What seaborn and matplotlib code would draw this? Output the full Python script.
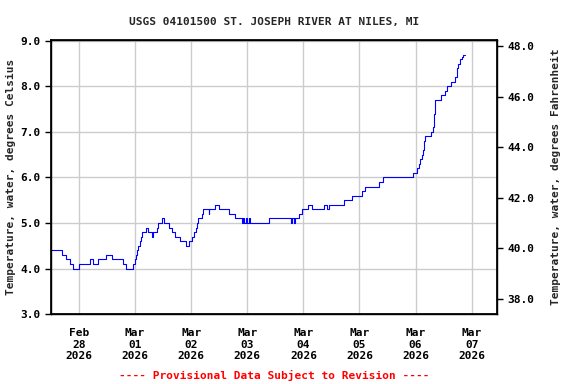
import matplotlib
matplotlib.use("Agg")
import matplotlib.pyplot as plt
import seaborn as sns
import pandas as pd

# step changes: hours after 2026-02-27 12:00, water temperature (deg C)
hours = [0, 4.9, 6.4, 8.1, 9.6, 12, 16.7, 17.9, 20.3, 23.4, 26, 31, 32.1,
         35, 36, 36.4, 36.7, 37.4, 38.1, 38.6, 38.9, 40.7, 41.4, 43.1, 43.8,
         45.3, 46, 47.4, 48.4, 50.7, 51.7, 53.1, 55, 57.7, 58.9, 60.3, 61.3,
         62, 62.4, 63.1, 64.6, 65, 67.4, 67.8, 70.3, 71.7, 76, 78.9, 81.7,
         82.3, 82.8, 83.4, 84, 84.6, 85.2, 86, 93.1, 102.7, 103.2, 103.8,
         104.4, 105.3, 106.3, 107.6, 109.9, 111.7, 116.7, 117.9, 118.9,
         125.3, 129, 133.2, 134.3, 140.3, 142, 154.9, 156.7, 157.4, 158.1,
         158.9, 159.3, 159.6, 159.7, 160, 162.4, 163.3, 163.9, 164.0, 164.1,
         164.4, 166.7, 168.4, 169.6, 171.3, 172.9, 173.6, 173.9, 174.3, 175,
         175.7, 176.4, 177]
temp_c = [4.4, 4.3, 4.2, 4.1, 4.0, 4.1, 4.2, 4.1, 4.2, 4.3, 4.2, 4.1, 4.0,
          4.1, 4.2, 4.3, 4.4, 4.5, 4.6, 4.7, 4.8, 4.9, 4.8, 4.7, 4.8,
          4.9, 5.0, 5.1, 5.0, 4.9, 4.8, 4.7, 4.6, 4.5, 4.6, 4.7, 4.8,
          4.9, 5.0, 5.1, 5.2, 5.3, 5.2, 5.3, 5.4, 5.3, 5.2, 5.1, 5.0,
          5.1, 5.0, 5.1, 5.0, 5.1, 5.0, 5.0, 5.1, 5.0, 5.1, 5.0,
          5.1, 5.1, 5.2, 5.3, 5.4, 5.3, 5.4, 5.3, 5.4,
          5.5, 5.6, 5.7, 5.8, 5.9, 6.0, 6.1, 6.2, 6.3, 6.4,
          6.5, 6.6, 6.7, 6.8, 6.9, 7.0, 7.1, 7.2, 7.4, 7.6,
          7.7, 7.8, 7.9, 8.0, 8.1, 8.2, 8.3, 8.4, 8.5, 8.6,
          8.65, 8.7, 8.7]

start = pd.Timestamp("2026-02-27 12:00")
day_ticks = pd.date_range("2026-02-28", "2026-03-07", freq="D")
tick_labels = [d.strftime("%b\n%d\n%Y") for d in day_ticks]
f_ticks = [38, 40, 42, 44, 46, 48]

title = "USGS 04101500 ST. JOSEPH RIVER AT NILES, MI"

df = pd.DataFrame({"time": start + pd.to_timedelta(hours, unit="h"),
                   "temp": temp_c})

sns.set_theme(style="whitegrid")
plt.rcParams["font.family"] = ["DejaVu Sans Mono"]
plt.rcParams["font.weight"] = "bold"

fig = plt.figure(figsize=(5.76, 3.84), dpi=100)
ax = fig.add_axes([0.0885, 0.182, 0.775, 0.714])

sns.lineplot(data=df, x="time", y="temp", ax=ax, color="#0000ff",
             linewidth=0.8, drawstyle="steps-post")

ylo, yhi = 3.0, 9.02
ax.set_ylim(ylo, yhi)
ax.set_yticks([3, 4, 5, 6, 7, 8, 9])
ax.yaxis.set_major_formatter(matplotlib.ticker.FormatStrFormatter("%.1f"))
ax.set_xlim(start, start + pd.Timedelta(hours=191))
ax.set_xticks(day_ticks)
ax.set_xticklabels(tick_labels)

ax.grid(True, color="#cccccc", linewidth=1.0)
for s in ax.spines.values():
    s.set_color("black")
    s.set_linewidth(1.0)
ax.tick_params(axis="both", labelsize=8, colors="black", direction="out",
               length=4, width=1, bottom=False, left=True)
ax.tick_params(axis="x", pad=6)
ax.set_xlabel("")
ax.set_ylabel("Temperature, water, degrees Celsius", fontsize=8,
              fontweight="bold", labelpad=3)
ax.set_title(title, fontsize=8, fontweight="bold", pad=11)

ax2 = ax.twinx()
ax2.set_ylim(ylo * 1.8 + 32, yhi * 1.8 + 32)
ax2.set_yticks(f_ticks)
ax2.yaxis.set_major_formatter(matplotlib.ticker.FormatStrFormatter("%.1f"))
ax2.grid(False)
ax2.tick_params(axis="y", labelsize=8, direction="out", length=4, width=1,
                colors="black", right=True)
ax2.set_ylabel("Temperature, water, degrees Fahrenheit", fontsize=8,
               fontweight="bold", labelpad=12)
for s in ax2.spines.values():
    s.set_color("black")

fig.text(0.476, 0.012, "---- Provisional Data Subject to Revision ----",
         color="red", fontsize=8, fontweight="bold", ha="center")

fig.savefig("out.png", dpi=100)
